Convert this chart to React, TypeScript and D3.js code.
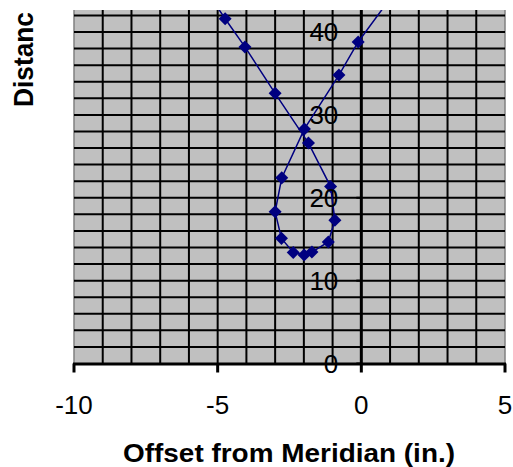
import React from "react";
import * as d3 from "d3";

const xOffset = [-5.4, -4.74, -4.05, -3.0, -1.84, -1.07, -0.92, -1.15, -1.72, -1.99, -2.37, -2.78, -3.0, -2.77, -1.98, -0.78, -0.11, 1.1];
const yDistance = [45, 41.6, 38.2, 32.6, 26.6, 21.35, 17.3, 14.66, 13.45, 13.1, 13.4, 15.1, 18.3, 22.4, 28.3, 34.8, 38.8, 44.5];
const xTicks = [-10, -5, 0, 5];
const yTicks = [0, 10, 20, 30, 40];
const xMinor = d3.range(-9, 5, 1).filter((v) => v !== 0);
const yMinor = d3.range(2, 43, 2);

const W = 513;
const H = 467;
const plotLeft = 74;
const plotRight = 505;
const plotTop = 10;
const plotBottom = 363.5;

export default function App() {
  const x = d3.scaleLinear().domain([-10, 5]).range([plotLeft, plotRight]);
  const y = d3.scaleLinear().domain([0, 40]).range([plotBottom, 32]);
  const pts = xOffset.map((v, i) => [v, yDistance[i]] as [number, number]);
  const line = d3
    .line<[number, number]>()
    .x((d) => x(d[0]))
    .y((d) => y(d[1]))(pts);
  const marker = d3.symbol(d3.symbolSquare, 85)();
  const navy = "#000080";
  return (
    <svg
      width={W}
      height={H}
      style={{ position: "absolute", left: 0, top: 0, background: "#fff" }}
      fontFamily="Arial, 'Liberation Sans', sans-serif"
    >
      <defs>
        <clipPath id="plotclip">
          <rect x={plotLeft} y={plotTop} width={plotRight - plotLeft} height={plotBottom - plotTop} />
        </clipPath>
      </defs>
      <rect x={plotLeft} y={plotTop} width={plotRight - plotLeft} height={plotBottom - plotTop} fill="#c0c0c0" />
      <line x1={plotLeft} x2={plotLeft} y1={plotTop} y2={plotBottom} stroke="#808080" strokeWidth={1.5} />
      <line x1={plotRight} x2={plotRight} y1={plotTop} y2={plotBottom} stroke="#808080" strokeWidth={1.5} />
      {xMinor.map((v) => (
        <line key={"gx" + v} x1={x(v)} x2={x(v)} y1={plotTop} y2={plotBottom} stroke="#000" strokeWidth={2} />
      ))}
      {yMinor.map((v) => (
        <line key={"gy" + v} x1={plotLeft} x2={plotRight} y1={y(v)} y2={y(v)} stroke="#000" strokeWidth={2} />
      ))}
      <line x1={x(0)} x2={x(0)} y1={plotTop} y2={plotBottom} stroke="#000" strokeWidth={3} />
      {yTicks.map((v) => (
        <line key={"yt" + v} x1={x(0) - 5} x2={x(0)} y1={y(v)} y2={y(v)} stroke="#000" strokeWidth={2} />
      ))}
      <line x1={plotLeft - 1} x2={plotRight + 1} y1={plotBottom + 0.5} y2={plotBottom + 0.5} stroke="#000" strokeWidth={3} />
      {xTicks.map((v) => (
        <line key={"xt" + v} x1={x(v)} x2={x(v)} y1={plotBottom} y2={plotBottom + 9} stroke="#000" strokeWidth={3} />
      ))}
      <g clipPath="url(#plotclip)">
        <path d={line || ""} fill="none" stroke={navy} strokeWidth={1.5} />
        {pts.map((d, i) => (
          <path key={"m" + i} d={marker || ""} transform={`translate(${x(d[0])},${y(d[1])}) rotate(45)`} fill={navy} />
        ))}
      </g>
      {yTicks.map((v) => (
        <text key={"yl" + v} x={x(0) - 23} y={y(v)} dy="0.36em" textAnchor="end" fontSize={26} fill="#000">
          {v}
        </text>
      ))}
      {xTicks.map((v) => (
        <text key={"xl" + v} x={x(v)} y={414} textAnchor="middle" fontSize={26} fill="#000">
          {v}
        </text>
      ))}
      <text x={123} y={462} fontSize={25} fontWeight="bold" textLength={332} lengthAdjust="spacingAndGlyphs" fill="#000">
        Offset from Meridian (in.)
      </text>
      <text
        transform={`translate(33,107) rotate(-90)`}
        fontSize={27}
        fontWeight="bold"
        textLength={95}
        lengthAdjust="spacingAndGlyphs"
        fill="#000"
      >
        Distanc
      </text>
    </svg>
  );
}
